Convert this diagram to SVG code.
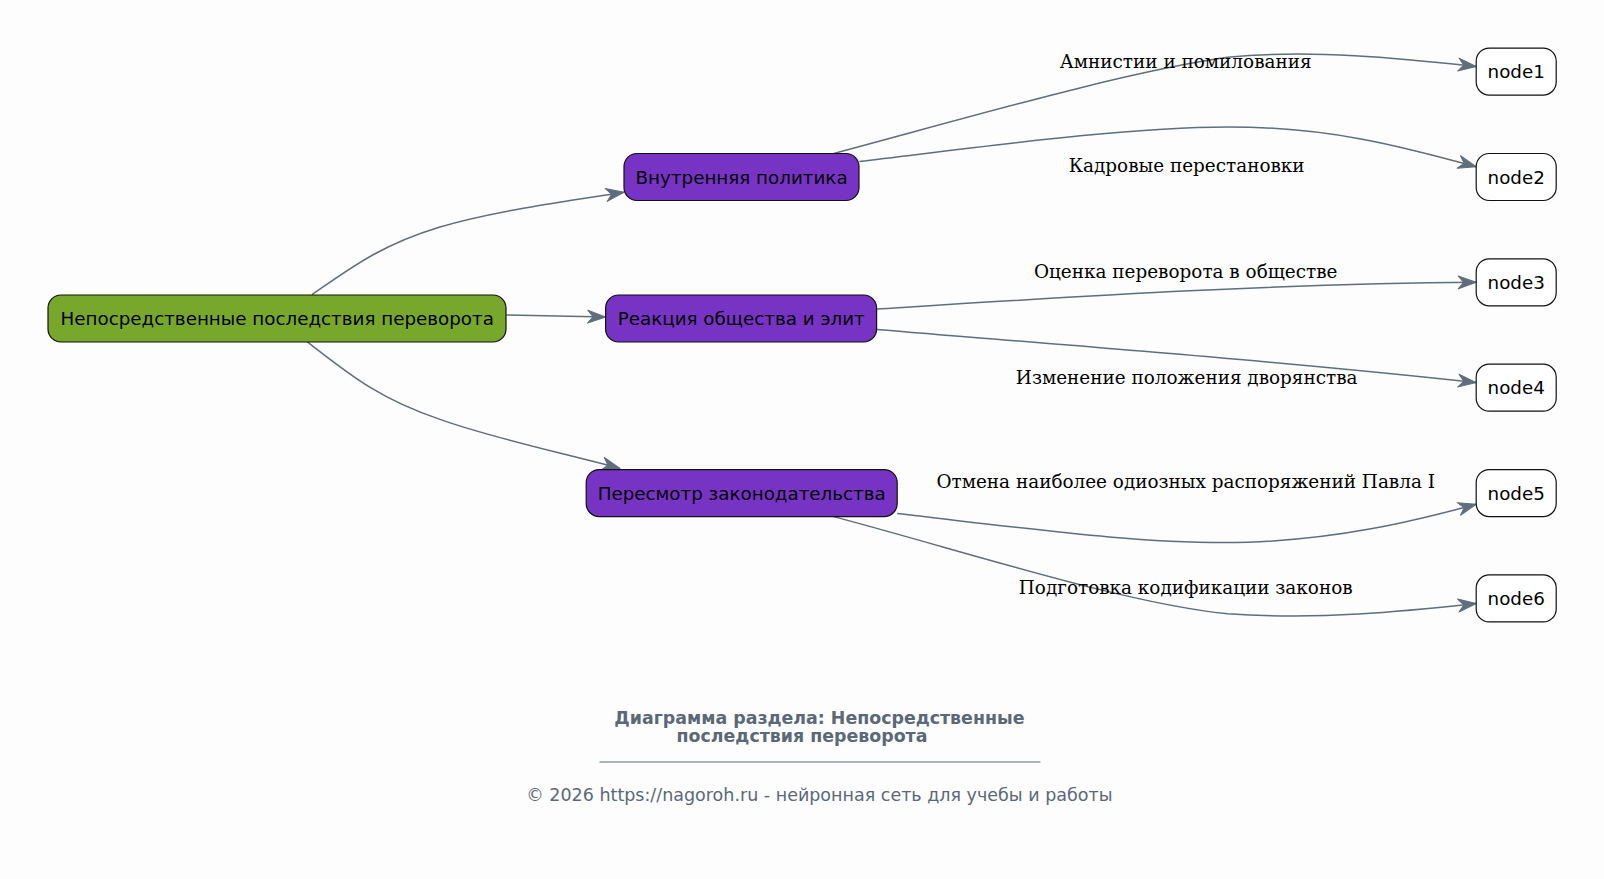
<svg xmlns="http://www.w3.org/2000/svg" width="1604" height="879" viewBox="0 0 1604 879">
<style>
.bg{fill:#fdfdfd}
.n rect{stroke:#111;stroke-width:1.2}
.root rect{fill:#78a82b}
.mid rect{fill:#7734c4}
.leaf rect{fill:#fff}
.n text{font-family:"DejaVu Sans",sans-serif;font-size:18.3px;fill:#000;text-anchor:middle;dominant-baseline:central}
.e path{fill:none;stroke:#5f6e7c;stroke-width:1.5}
.lbl{font-family:"DejaVu Serif",serif;font-size:18.4px;fill:#000;text-anchor:middle}
.t{font-family:"DejaVu Sans",sans-serif;font-size:17.4px;font-weight:bold;fill:#5a6878;text-anchor:middle}
.f{font-family:"DejaVu Sans",sans-serif;font-size:17.5px;fill:#5a6878;text-anchor:middle}
</style>
<defs>
<marker id="a" markerWidth="22" markerHeight="16" refX="19" refY="8" orient="auto" markerUnits="userSpaceOnUse">
<path d="M1,1.5 L19,8 L1,14.5 L6.5,8 Z" fill="#5f6e7c" stroke="#5f6e7c" stroke-width="1" stroke-linejoin="round"/>
</marker>
</defs>
<rect class="bg" x="0" y="0" width="1604" height="879"/>
<g id="connectors" class="e">
<path marker-end="url(#a)" d="M312,294.6 C348,270 378.6,245.5 440,227 C491,211.8 562.6,201.5 624,192.3"/>
<path marker-end="url(#a)" d="M506.4,315 L605.6,317"/>
<path marker-end="url(#a)" d="M307,341.7 C348,373.4 378.6,399 440,419.4 C491,437.8 562.6,453 620,468.5"/>
<path marker-end="url(#a)" d="M833.7,153.5 C971.9,116.6 1125.3,71.6 1227.6,57.3 C1309.4,49 1401.5,58.3 1476.2,66.5"/>
<path marker-end="url(#a)" d="M859.3,161.6 C971.9,148.3 1125.3,126.9 1227.6,126.9 C1329.9,126.9 1401.5,146.3 1476.2,166.7"/>
<path marker-end="url(#a)" d="M876.7,309 C1074,296.7 1278.8,283.4 1476.2,282.3"/>
<path marker-end="url(#a)" d="M876.7,329.4 C1074,345.8 1278.8,361.1 1476.2,382.6"/>
<path marker-end="url(#a)" d="M897.2,513.5 C1023,527.9 1145.8,545.3 1248,542.2 C1340,539.1 1411.7,521.7 1476.2,504.3"/>
<path marker-end="url(#a)" d="M833.7,516.6 C971.9,553.4 1125.3,603.6 1227.6,613.8 C1319.7,620 1401.5,611.8 1476.2,603.6"/>
</g>
<g id="labels">
<text class="lbl" x="1185.7" y="67.5">Амнистии и помилования</text>
<text class="lbl" x="1186.7" y="172">Кадровые перестановки</text>
<text class="lbl" x="1185.7" y="278">Оценка переворота в обществе</text>
<text class="lbl" x="1186.7" y="383.5">Изменение положения дворянства</text>
<text class="lbl" x="1185.7" y="488">Отмена наиболее одиозных распоряжений Павла I</text>
<text class="lbl" x="1185.7" y="594">Подготовка кодификации законов</text>
</g>
<g id="root" class="n root"><rect x="48" y="295" width="458" height="47" rx="13"/><text x="277.2" y="318.5">Непосредственные последствия переворота</text></g>
<g id="inner" class="n mid"><rect x="624" y="153.5" width="235" height="47" rx="13"/><text x="741.6" y="177">Внутренняя политика</text></g>
<g id="reaction" class="n mid"><rect x="605.6" y="295" width="271" height="47" rx="13"/><text x="741.2" y="318.5">Реакция общества и элит</text></g>
<g id="law" class="n mid"><rect x="586.2" y="469.6" width="311" height="47" rx="13"/><text x="741.7" y="493.1">Пересмотр законодательства</text></g>
<g id="node1" class="n leaf"><rect x="1476.2" y="48.1" width="80" height="47" rx="13"/><text x="1516.2" y="71.6">node1</text></g>
<g id="node2" class="n leaf"><rect x="1476.2" y="153.5" width="80" height="47" rx="13"/><text x="1516.2" y="177">node2</text></g>
<g id="node3" class="n leaf"><rect x="1476.2" y="258.8" width="80" height="47" rx="13"/><text x="1516.2" y="282.3">node3</text></g>
<g id="node4" class="n leaf"><rect x="1476.2" y="364.2" width="80" height="47" rx="13"/><text x="1516.2" y="387.7">node4</text></g>
<g id="node5" class="n leaf"><rect x="1476.2" y="469.6" width="80" height="47" rx="13"/><text x="1516.2" y="493.1">node5</text></g>
<g id="node6" class="n leaf"><rect x="1476.2" y="574.9" width="80" height="47" rx="13"/><text x="1516.2" y="598.4">node6</text></g>
<g id="caption">
<text class="t" x="819.4" y="724">Диаграмма раздела: Непосредственные</text>
<text class="t" x="802" y="741.5">последствия переворота</text>
<line x1="599.5" y1="762" x2="1040.4" y2="762" stroke="#5a6878" stroke-width="1"/>
<text class="f" x="819.4" y="801">© 2026 https://nagoroh.ru - нейронная сеть для учебы и работы</text>
</g>
</svg>
